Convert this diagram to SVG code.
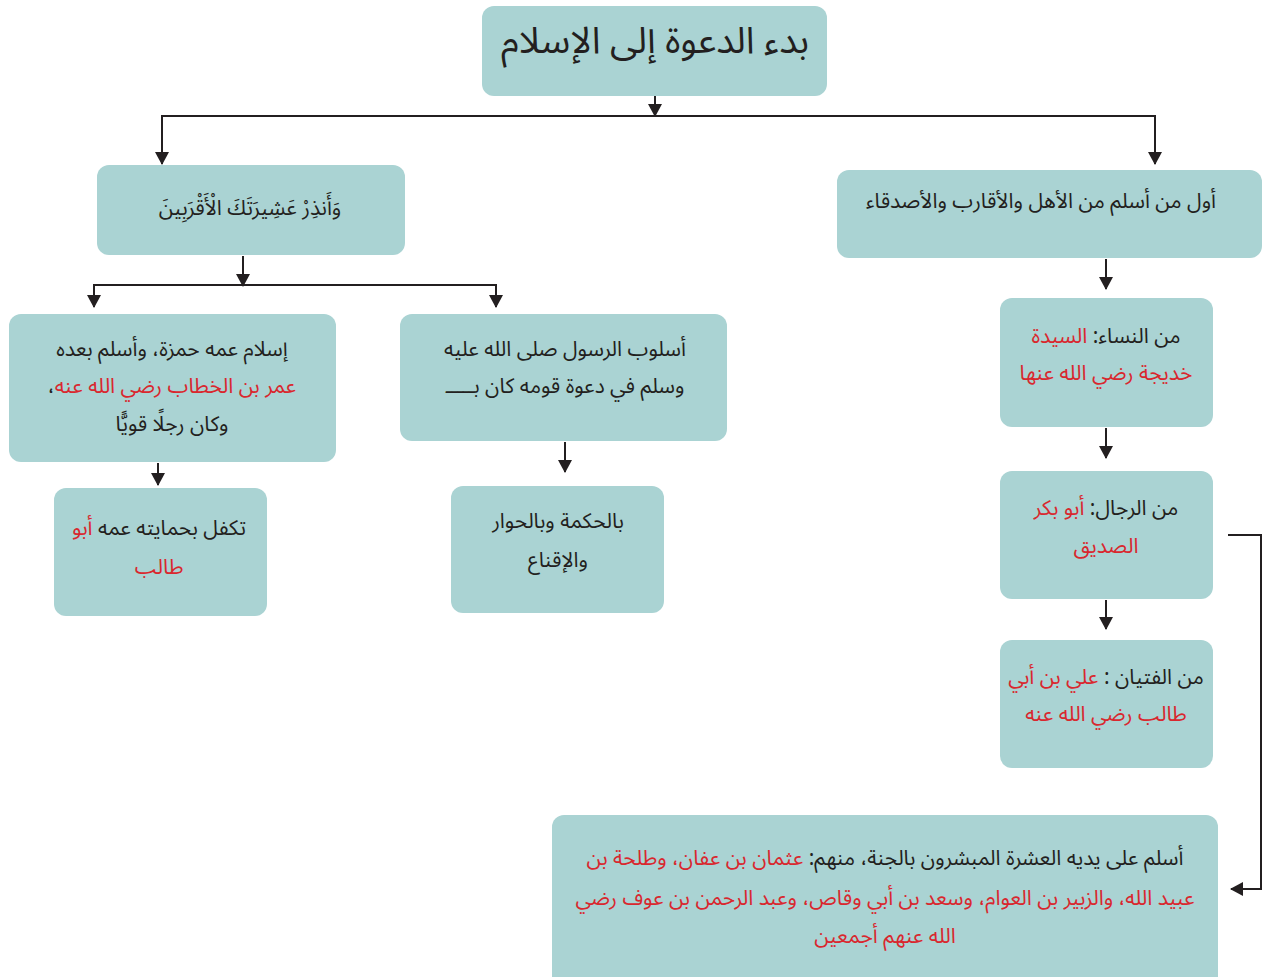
<svg xmlns="http://www.w3.org/2000/svg" width="1268" height="977" viewBox="0 0 1268 977">
<style>
.box{fill:#aad3d3;}
.t{font-family:"Noto Sans Arabic","Noto Naskh Arabic","DejaVu Sans",sans-serif;font-size:21px;fill:#231f20;text-anchor:middle;direction:rtl;}
.r{fill:#d9272e;}
.ln{fill:none;stroke:#231f20;stroke-width:2;}
</style>
<defs>
<marker id="ah" markerWidth="13" markerHeight="14" refX="12" refY="7" orient="auto" markerUnits="userSpaceOnUse" viewBox="0 0 13 14">
<path d="M0,0 L13,7 L0,14 z" fill="#231f20"/>
</marker>
</defs>
<rect width="1268" height="977" fill="#ffffff"/>
<g id="connectors">
<path class="ln" d="M655,96 V116" marker-end="url(#ah)"/>
<path class="ln" d="M162,140 V116 H1155 V140"/>
<path class="ln" d="M162,140 V164" marker-end="url(#ah)"/>
<path class="ln" d="M1155,140 V164" marker-end="url(#ah)"/>
<path class="ln" d="M243,256 V286" marker-end="url(#ah)"/>
<path class="ln" d="M94,296 V285 H496 V296"/>
<path class="ln" d="M94,290 V307" marker-end="url(#ah)"/>
<path class="ln" d="M496,290 V307" marker-end="url(#ah)"/>
<path class="ln" d="M158,463 V485" marker-end="url(#ah)"/>
<path class="ln" d="M565,442 V472" marker-end="url(#ah)"/>
<path class="ln" d="M1106,259 V289" marker-end="url(#ah)"/>
<path class="ln" d="M1106,428 V458" marker-end="url(#ah)"/>
<path class="ln" d="M1106,600 V629" marker-end="url(#ah)"/>
<path class="ln" d="M1228,535 H1261 V889 H1231" marker-end="url(#ah)"/>
</g>
<g id="n-top">
<rect class="box" x="482" y="6" width="345" height="90" rx="12"/>
<text class="t" x="655" y="53" style="font-size:37px">بدء الدعوة إلى الإسلام</text>
</g>
<g id="n-l1">
<rect class="box" x="97" y="165" width="308" height="90" rx="12"/>
<text class="t" x="250" y="215">وَأَنذِرْ عَشِيرَتَكَ الْأَقْرَبِينَ</text>
</g>
<g id="n-r1">
<rect class="box" x="837" y="170" width="425" height="88" rx="12"/>
<text class="t" x="1041" y="208">أول من أسلم من الأهل والأقارب والأصدقاء</text>
</g>
<g id="n-l2a">
<rect class="box" x="9" y="314" width="327" height="148" rx="12"/>
<text class="t" x="172" y="356">إسلام عمه حمزة، وأسلم بعده</text>
<text class="t" x="172" y="393"><tspan class="r">عمر بن الخطاب رضي الله عنه</tspan>،</text>
<text class="t" x="172" y="431">وكان رجلًا قويًّا</text>
</g>
<g id="n-l2b">
<rect class="box" x="400" y="314" width="327" height="127" rx="12"/>
<text class="t" x="565" y="356">أسلوب الرسول صلى الله عليه</text>
<text class="t" x="565" y="393">وسلم في دعوة قومه كان بـــــ</text>
</g>
<g id="n-l3a">
<rect class="box" x="54" y="488" width="213" height="128" rx="12"/>
<text class="t" x="159" y="535">تكفل بحمايته عمه <tspan class="r">أبو</tspan></text>
<text class="t r" x="159" y="574">طالب</text>
</g>
<g id="n-l3b">
<rect class="box" x="451" y="486" width="213" height="127" rx="12"/>
<text class="t" x="558" y="528">بالحكمة وبالحوار</text>
<text class="t" x="558" y="567">والإقناع</text>
</g>
<g id="n-r2">
<rect class="box" x="1000" y="298" width="213" height="129" rx="12"/>
<text class="t" x="1106" y="343">من النساء: <tspan class="r">السيدة</tspan></text>
<text class="t r" x="1106" y="380">خديجة رضي الله عنها</text>
</g>
<g id="n-r3">
<rect class="box" x="1000" y="471" width="213" height="128" rx="12"/>
<text class="t" x="1106" y="515">من الرجال: <tspan class="r">أبو بكر</tspan></text>
<text class="t r" x="1106" y="553">الصديق</text>
</g>
<g id="n-r4">
<rect class="box" x="1000" y="640" width="213" height="128" rx="12"/>
<text class="t" x="1106" y="684">من الفتيان : <tspan class="r">علي بن أبي</tspan></text>
<text class="t r" x="1106" y="721">طالب رضي الله عنه</text>
</g>
<g id="n-bottom">
<rect class="box" x="552" y="815" width="666" height="175" rx="12"/>
<text class="t" x="885" y="865">أسلم على يديه العشرة المبشرون بالجنة، منهم: <tspan class="r">عثمان بن عفان، وطلحة بن</tspan></text>
<text class="t r" x="885" y="905">عبيد الله، والزبير بن العوام، وسعد بن أبي وقاص، وعبد الرحمن بن عوف رضي</text>
<text class="t r" x="885" y="943">الله عنهم أجمعين</text>
</g>
</svg>
